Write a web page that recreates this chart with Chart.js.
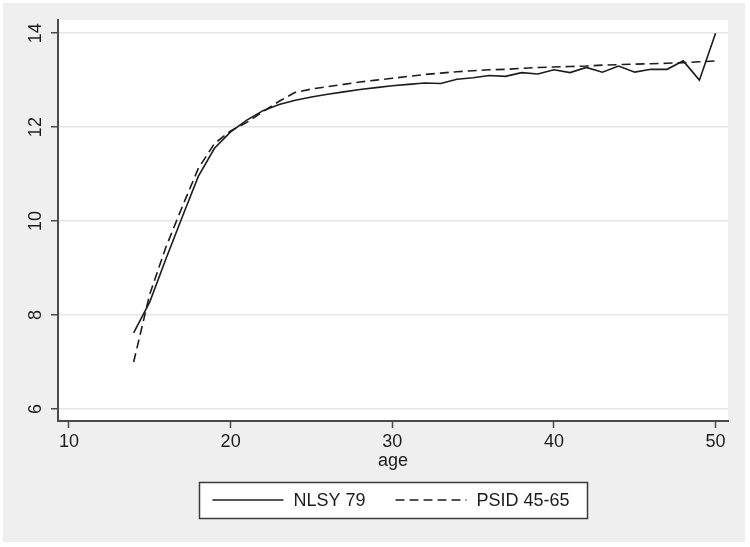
<!DOCTYPE html>
<html lang="en">
<head>
    <meta charset="UTF-8">
    <title>NLSY 79 vs PSID 45-65 by age</title>
    <script src="https://cdn.jsdelivr.net/npm/chart.js"></script>
    <style>
        body { margin: 0; background: #ffffff; }
        #chart { display: block; }
    </style>
</head>
<body>
    <canvas id="chart" width="750" height="547"></canvas>

    <script>
        // Data
        const ages = [14, 15, 16, 17, 18, 19, 20, 21, 22, 23, 24, 25, 26, 27, 28, 29, 30, 31,
                      32, 33, 34, 35, 36, 37, 38, 39, 40, 41, 42, 43, 44, 45, 46, 47, 48, 49, 50];
        const nlsy79 = [7.62, 8.28, 9.2, 10.08, 10.95, 11.55, 11.9, 12.15, 12.35, 12.48, 12.57, 12.64,
                        12.7, 12.75, 12.8, 12.84, 12.88, 12.91, 12.94, 12.93, 13.02, 13.05, 13.1, 13.08,
                        13.16, 13.13, 13.22, 13.16, 13.27, 13.17, 13.3, 13.17, 13.23, 13.23, 13.41, 13.0, 14.0];
        const psid4565 = [7.0, 8.45, 9.45, 10.3, 11.12, 11.65, 11.92, 12.1, 12.33, 12.55, 12.74, 12.81,
                          12.86, 12.91, 12.96, 13.0, 13.04, 13.08, 13.12, 13.15, 13.18, 13.2, 13.22, 13.23,
                          13.25, 13.27, 13.28, 13.29, 13.3, 13.32, 13.33, 13.34, 13.35, 13.36, 13.37, 13.39, 13.41];
        const seriesNames = ["NLSY 79", "PSID 45-65"];
        const xTicks = [10, 20, 30, 40, 50];
        const yTicks = [6, 8, 10, 12, 14];

        const FONT = "'Liberation Sans', Arial, sans-serif";
        const AXIS = "#4a4a4a";
        const INK = "#1c1c1c";

        // gray outer frame and white plot region
        const stataBackground = {
            id: "stataBackground",
            beforeDraw(chart) {
                const { ctx, chartArea: a } = chart;
                ctx.save();
                ctx.fillStyle = "#ffffff";
                ctx.fillRect(0, 0, chart.width, chart.height);
                ctx.fillStyle = "#efefef";
                ctx.fillRect(3, 3, chart.width - 8, chart.height - 8);
                ctx.fillStyle = "#ffffff";
                ctx.fillRect(a.left, a.top, a.right - a.left, a.bottom - a.top);
                ctx.restore();
            }
        };

        // boxed legend below the axis title
        const boxedLegend = {
            id: "boxedLegend",
            afterDraw(chart) {
                const { ctx, chartArea: a } = chart;
                const cx = (a.left + a.right) / 2;
                const cy = 500;
                const sample = 71, gap = 10, between = 30;
                ctx.save();
                ctx.font = "18px " + FONT;
                const items = chart.data.datasets.map(ds => ({
                    label: ds.label,
                    dash: ds.borderDash || [],
                    w: ctx.measureText(ds.label).width
                }));
                const content = items.reduce((s, it) => s + sample + gap + it.w, 0) + between * (items.length - 1);
                const boxW = 388, boxH = 36;
                const bx = Math.round(cx - boxW / 2) + 0.5, by = cy - boxH / 2 + 0.5;
                ctx.fillStyle = "#ffffff";
                ctx.fillRect(bx, by, boxW, boxH);
                ctx.strokeStyle = "#3a3a3a";
                ctx.lineWidth = 1.5;
                ctx.strokeRect(bx, by, boxW, boxH);

                let x = cx - content / 2 - 2;
                items.forEach(it => {
                    ctx.strokeStyle = INK;
                    ctx.lineWidth = 1.6;
                    ctx.setLineDash(it.dash);
                    ctx.beginPath();
                    ctx.moveTo(x, cy);
                    ctx.lineTo(x + sample, cy);
                    ctx.stroke();
                    ctx.setLineDash([]);
                    x += sample + gap;
                    ctx.fillStyle = INK;
                    ctx.textBaseline = "middle";
                    ctx.textAlign = "left";
                    ctx.fillText(it.label, x, cy + 1);
                    x += it.w + between;
                });
                ctx.restore();
            }
        };

        const toPoints = vals => ages.map((a, i) => ({ x: a, y: vals[i] }));

        new Chart(document.getElementById("chart"), {
            type: "line",
            data: {
                datasets: [
                    {
                        label: seriesNames[0],
                        data: toPoints(nlsy79),
                        borderColor: INK,
                        borderWidth: 1.6,
                        pointRadius: 0,
                        tension: 0,
                        fill: false
                    },
                    {
                        label: seriesNames[1],
                        data: toPoints(psid4565),
                        borderColor: INK,
                        borderWidth: 1.6,
                        borderDash: [9, 5],
                        pointRadius: 0,
                        tension: 0,
                        fill: false
                    }
                ]
            },
            options: {
                responsive: false,
                animation: false,
                devicePixelRatio: 1,
                layout: { padding: { left: 0, right: 22, top: 20, bottom: 74 } },
                plugins: {
                    legend: { display: false },
                    tooltip: { enabled: false }
                },
                scales: {
                    x: {
                        type: "linear",
                        min: 9.32,
                        max: 50.77,
                        afterBuildTicks: s => { s.ticks = xTicks.map(v => ({ value: v })); },
                        afterFit: s => { s.height = 52; },
                        grid: {
                            drawOnChartArea: false,
                            drawTicks: true,
                            tickLength: 7,
                            tickColor: AXIS,
                            tickWidth: 1.5
                        },
                        border: { color: AXIS, width: 2 },
                        ticks: {
                            autoSkip: false,
                            maxRotation: 0,
                            padding: 3,
                            color: INK,
                            font: { family: FONT, size: 18 }
                        },
                        title: {
                            display: true,
                            text: "age",
                            color: INK,
                            padding: { top: 0, bottom: 1 },
                            font: { family: FONT, size: 18 }
                        }
                    },
                    y: {
                        min: 5.745,
                        max: 14.28,
                        afterBuildTicks: s => { s.ticks = yTicks.map(v => ({ value: v })); },
                        afterFit: s => { s.width = 58; },
                        grid: {
                            color: "#e6e6e6",
                            lineWidth: 1.5,
                            drawTicks: true,
                            tickLength: 7,
                            tickColor: AXIS,
                            tickWidth: 1.5
                        },
                        border: { color: AXIS, width: 2 },
                        ticks: {
                            autoSkip: false,
                            minRotation: 90,
                            maxRotation: 90,
                            crossAlign: "center",
                            padding: 5,
                            color: INK,
                            font: { family: FONT, size: 18 }
                        }
                    }
                }
            },
            plugins: [stataBackground, boxedLegend]
        });
    </script>
</body>
</html>
